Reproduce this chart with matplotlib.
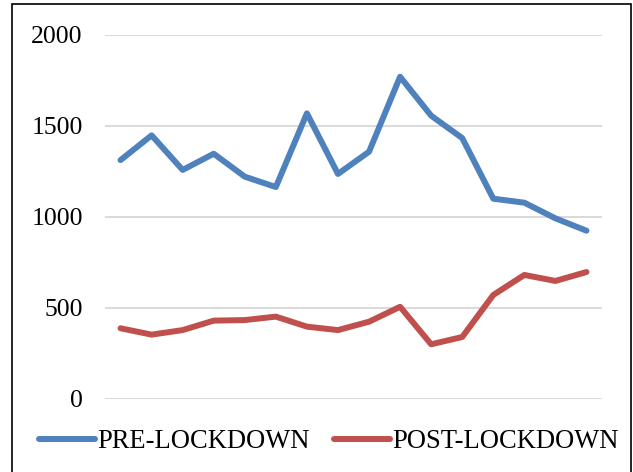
import matplotlib
matplotlib.use("Agg")
import matplotlib.pyplot as plt
from matplotlib.patches import Rectangle

pre_lockdown = [1311, 1447, 1257, 1346, 1220, 1163, 1568, 1235, 1357, 1769, 1555, 1432, 1099, 1077, 991, 923]
post_lockdown = [387, 352, 377, 429, 432, 451, 396, 377, 423, 505, 299, 339, 570, 680, 647, 696]
series_names = ["PRE-LOCKDOWN", "POST-LOCKDOWN"]
y_ticks = [0, 500, 1000, 1500, 2000]

plt.rcParams['font.family'] = ['Liberation Serif', 'DejaVu Serif']

W, H = 633, 472
fig = plt.figure(figsize=(W / 100, H / 100), dpi=100)
ax = fig.add_axes([105 / W, (H - 398.7) / H, (602 - 105) / W, (398.7 - 34.7) / H])

x = list(range(len(pre_lockdown)))
ax.plot(x, pre_lockdown, color='#4F81BD', lw=4.3, solid_capstyle='round', solid_joinstyle='round', label=series_names[0], zorder=3)
ax.plot(x, post_lockdown, color='#C0504D', lw=4.3, solid_capstyle='round', solid_joinstyle='round', label=series_names[1], zorder=3)

ax.set_xlim(-0.5, len(x) - 0.5)
ax.set_ylim(0, 2000)
ax.set_yticks(y_ticks)
ax.set_yticklabels([str(v) for v in y_ticks], fontsize=18.5)
ax.set_xticks([])
ax.yaxis.grid(True, color='#D9D9D9', lw=1.4)
ax.set_axisbelow(True)
ax.tick_params(axis='y', length=0, pad=16)
for s in ax.spines.values():
    s.set_visible(False)

fig.legend(loc='center', bbox_to_anchor=(329 / W, (H - 442) / H), ncol=2, frameon=False,
           fontsize=19.1, handlelength=2.1, handletextpad=0.1, columnspacing=0.9,
           borderaxespad=0)

fig.patches.append(Rectangle((12 / W, -0.05), (631 - 12) / W, (H - 4) / H + 0.05,
                             transform=fig.transFigure, fill=False, edgecolor='black', lw=1.2))

fig.savefig('out.png', dpi=100)
